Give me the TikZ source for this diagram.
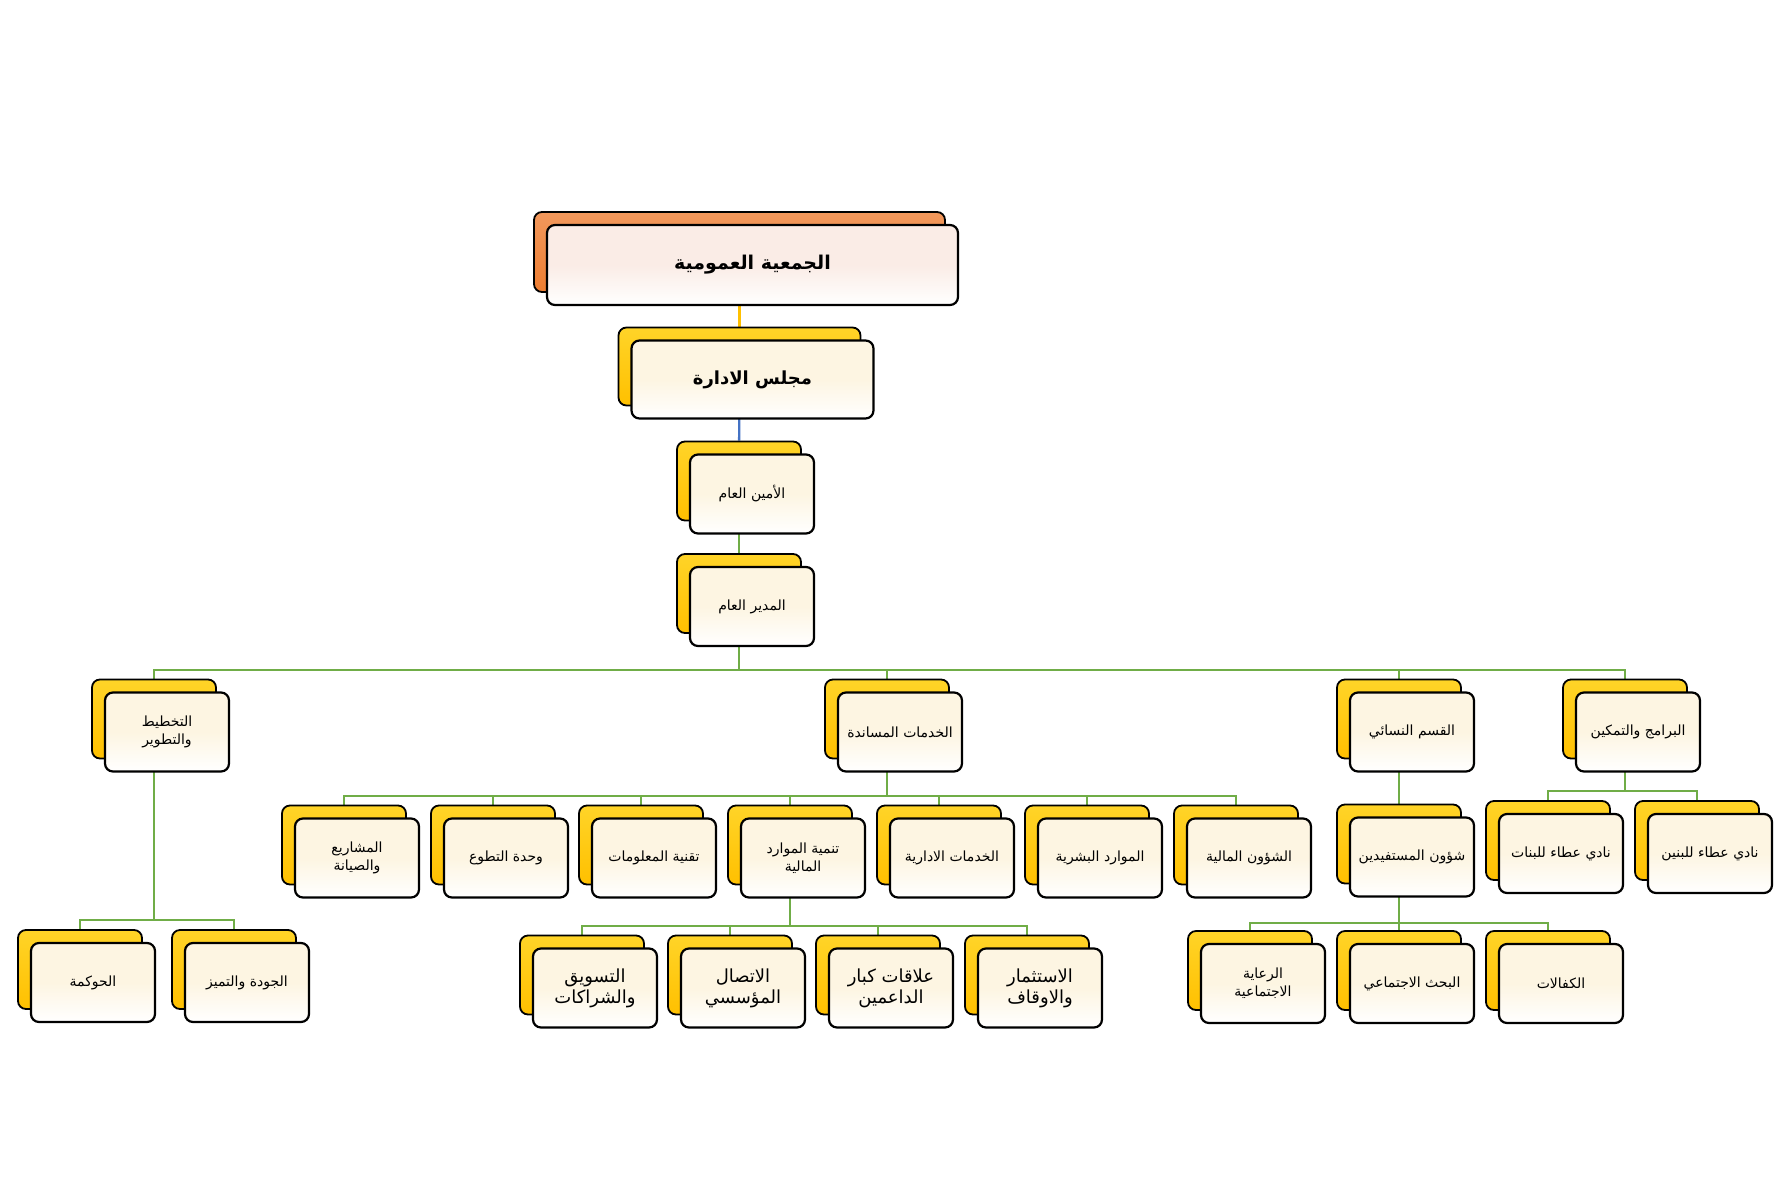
\documentclass[tikz,border=0pt]{standalone}
\usepackage{fontspec}
\usetikzlibrary{backgrounds}
\newfontfamily\arabicfont[Script=Arabic]{DejaVu Sans}
\TeXXeTstate=1
\newcommand\artxt[1]{\beginR #1\endR}
\definecolor{gold}{RGB}{255,192,0}
\definecolor{goldlight}{RGB}{255,212,40}
\definecolor{cream}{RGB}{253,245,226}
\definecolor{blush}{RGB}{250,236,230}
\definecolor{orangeback}{RGB}{237,125,49}
\definecolor{orangelight}{RGB}{242,152,92}
\definecolor{linkgreen}{RGB}{112,173,71}
\definecolor{linkblue}{RGB}{68,114,196}

\begin{document}
\begin{tikzpicture}[x=1pt, y=-1pt,
        back/.style={draw, rounded corners=8pt, line width=1.8pt, top color=goldlight, bottom color=gold,
                minimum width=124pt, minimum height=79pt},
        box/.style={draw, rounded corners=8pt, line width=2.2pt, top color=cream, bottom color=white, middle color=cream,
                minimum width=124pt, minimum height=79pt, inner sep=2pt, align=center,
                font=\arabicfont\fontsize{14}{18}\selectfont},
        large/.style={font=\arabicfont\fontsize{18}{21}\selectfont},
        link/.style={draw=linkgreen, line width=2.4pt}]

    \useasboundingbox (0,0) rectangle (1775,1200);

    %% cajas de fondo
    \node[back, top color=orangelight, bottom color=orangeback, minimum width=411pt, minimum height=80pt] (gen-b) at (739.5,252) {};
    \node[back, minimum width=242pt, minimum height=78pt] (board-b) at (739.5,366.5) {};
    \node[back] (amin-b) at (739,481) {};
    \node[back] (mud-b) at (739,593.5) {};

    \node[back] (pl-b) at (154,719) {};
    \node[back] (sup-b) at (887,719) {};
    \node[back] (wom-b) at (1399,719) {};
    \node[back] (prog-b) at (1625,719) {};

    \node[back] (proj-b) at (344,845) {};
    \node[back] (vol-b) at (493,845) {};
    \node[back] (it-b) at (641,845) {};
    \node[back] (fin-b) at (790,845) {};
    \node[back] (adm-b) at (939,845) {};
    \node[back] (hr-b) at (1087,845) {};
    \node[back] (acc-b) at (1236,845) {};

    \node[back] (mkt-b) at (582,975) {};
    \node[back] (com-b) at (730,975) {};
    \node[back] (don-b) at (878,975) {};
    \node[back] (inv-b) at (1027,975) {};

    \node[back] (ben-b) at (1399,844) {};
    \node[back] (care-b) at (1250,970.5) {};
    \node[back] (res-b) at (1399,970.5) {};
    \node[back] (kaf-b) at (1548,970.5) {};

    \node[back] (girls-b) at (1548,840.5) {};
    \node[back] (boys-b) at (1697,840.5) {};

    \node[back] (gov-b) at (80,969.5) {};
    \node[back] (qual-b) at (234,969.5) {};

    %% cajas con texto
    \node[box, top color=blush, bottom color=white, middle color=blush, minimum width=411pt, minimum height=80pt,
          font=\arabicfont\bfseries\fontsize{19}{23}\selectfont] (gen) at ([shift={(13pt,-13pt)}]gen-b.center) {\artxt{الجمعية العمومية}};
    \node[box, minimum width=242pt, minimum height=78pt,
          font=\arabicfont\bfseries\fontsize{18}{22}\selectfont] (board) at ([shift={(13pt,-13pt)}]board-b.center) {\artxt{مجلس الادارة}};
    \node[box] (amin) at ([shift={(13pt,-13pt)}]amin-b.center) {\artxt{الأمين العام}};
    \node[box] (mud) at ([shift={(13pt,-13pt)}]mud-b.center) {\artxt{المدير العام}};

    \node[box] (pl) at ([shift={(13pt,-13pt)}]pl-b.center) {\artxt{التخطيط}\\\artxt{والتطوير}};
    \node[box] (sup) at ([shift={(13pt,-13pt)}]sup-b.center) {\artxt{الخدمات المساندة}};
    \node[box] (wom) at ([shift={(13pt,-13pt)}]wom-b.center) {\artxt{القسم النسائي}};
    \node[box] (prog) at ([shift={(13pt,-13pt)}]prog-b.center) {\artxt{البرامج والتمكين}};

    \node[box] (proj) at ([shift={(13pt,-13pt)}]proj-b.center) {\artxt{المشاريع}\\\artxt{والصيانة}};
    \node[box] (vol) at ([shift={(13pt,-13pt)}]vol-b.center) {\artxt{وحدة التطوع}};
    \node[box] (it) at ([shift={(13pt,-13pt)}]it-b.center) {\artxt{تقنية المعلومات}};
    \node[box] (fin) at ([shift={(13pt,-13pt)}]fin-b.center) {\artxt{تنمية الموارد}\\\artxt{المالية}};
    \node[box] (adm) at ([shift={(13pt,-13pt)}]adm-b.center) {\artxt{الخدمات الادارية}};
    \node[box] (hr) at ([shift={(13pt,-13pt)}]hr-b.center) {\artxt{الموارد البشرية}};
    \node[box] (acc) at ([shift={(13pt,-13pt)}]acc-b.center) {\artxt{الشؤون المالية}};

    \node[box, large] (mkt) at ([shift={(13pt,-13pt)}]mkt-b.center) {\artxt{التسويق}\\\artxt{والشراكات}};
    \node[box, large] (com) at ([shift={(13pt,-13pt)}]com-b.center) {\artxt{الاتصال}\\\artxt{المؤسسي}};
    \node[box, large] (don) at ([shift={(13pt,-13pt)}]don-b.center) {\artxt{علاقات كبار}\\\artxt{الداعمين}};
    \node[box, large] (inv) at ([shift={(13pt,-13pt)}]inv-b.center) {\artxt{الاستثمار}\\\artxt{والاوقاف}};

    \node[box] (ben) at ([shift={(13pt,-13pt)}]ben-b.center) {\artxt{شؤون المستفيدين}};
    \node[box] (care) at ([shift={(13pt,-13pt)}]care-b.center) {\artxt{الرعاية}\\\artxt{الاجتماعية}};
    \node[box] (res) at ([shift={(13pt,-13pt)}]res-b.center) {\artxt{البحث الاجتماعي}};
    \node[box] (kaf) at ([shift={(13pt,-13pt)}]kaf-b.center) {\artxt{الكفالات}};

    \node[box] (girls) at ([shift={(13pt,-13pt)}]girls-b.center) {\artxt{نادي عطاء للبنات}};
    \node[box] (boys) at ([shift={(13pt,-13pt)}]boys-b.center) {\artxt{نادي عطاء للبنين}};

    \node[box] (gov) at ([shift={(13pt,-13pt)}]gov-b.center) {\artxt{الحوكمة}};
    \node[box] (qual) at ([shift={(13pt,-13pt)}]qual-b.center) {\artxt{الجودة والتميز}};

    %% puntos de las barras
    \coordinate (b1) at (739,670);
    \coordinate (b2) at (887,796);
    \coordinate (b3) at (790,926);
    \coordinate (b4) at (1399,923);
    \coordinate (b5) at (1625,791);
    \coordinate (b6) at (154,920);

    %% conectores
    \begin{scope}[on background layer]
        \draw[link, draw=gold] (gen-b) -- (board-b);
        \draw[link, draw=linkblue] (board-b) -- (amin-b);
        \draw[link] (amin-b) -- (mud-b);

        \draw[link] (mud-b) -- (b1);
        \draw[link] (pl-b) |- (b1) -| (prog-b);
        \draw[link] (sup-b) -- (sup-b |- b1);
        \draw[link] (wom-b) -- (wom-b |- b1);

        \draw[link] (sup-b) -- (b2);
        \draw[link] (proj-b) |- (b2) -| (acc-b);
        \draw[link] (vol-b) -- (vol-b |- b2);
        \draw[link] (it-b) -- (it-b |- b2);
        \draw[link] (fin-b) -- (fin-b |- b2);
        \draw[link] (adm-b) -- (adm-b |- b2);
        \draw[link] (hr-b) -- (hr-b |- b2);

        \draw[link] (fin-b) -- (b3);
        \draw[link] (mkt-b) |- (b3) -| (inv-b);
        \draw[link] (com-b) -- (com-b |- b3);
        \draw[link] (don-b) -- (don-b |- b3);

        \draw[link] (wom-b) -- (ben-b);
        \draw[link] (ben-b) -- (b4);
        \draw[link] (care-b) |- (b4) -| (kaf-b);
        \draw[link] (res-b) -- (b4);

        \draw[link] (prog-b) -- (b5);
        \draw[link] (girls-b) |- (b5) -| (boys-b);

        \draw[link] (pl-b) -- (b6);
        \draw[link] (gov-b) |- (b6) -| (qual-b);
    \end{scope}
\end{tikzpicture}
\end{document}
